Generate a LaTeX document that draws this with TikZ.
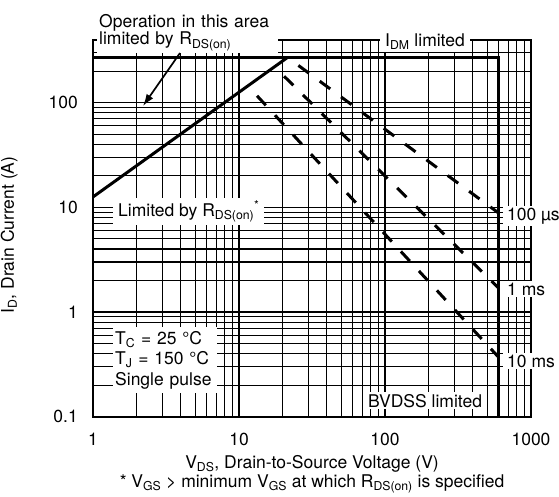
\documentclass[tikz,border=0pt]{standalone}
\usepackage{fontspec}
\setmainfont{TeX Gyre Heros}
\usetikzlibrary{arrows.meta, positioning}

\begin{document}
\begin{tikzpicture}[x=146pt, y=104.7pt, font=\fontsize{17.5}{21}\selectfont,
		gridline/.style={line width=1.1pt},
		frameline/.style={line width=2pt},
		limitline/.style={line width=3pt},
		pulseline/.style={line width=3pt, dash pattern=on 13pt off 13.5pt, dash phase=13pt},
		whitelabel/.style={fill=white, inner xsep=3pt, inner ysep=2pt},
		ticklabel/.style={inner sep=0pt}]
		
		\useasboundingbox (-93pt,-79.3pt) rectangle (466pt,416.7pt);
		
		% grid
		\foreach \d in {0,1,2}
			\foreach \k in {1,...,9}
				\draw[gridline] ({\d+log10(\k)},0) -- ({\d+log10(\k)},{1+log10(400)});
		\foreach \d in {0,1,2}
			\foreach \k in {1,...,9}
				\draw[gridline] (0,{\d+log10(\k)}) -- (3,{\d+log10(\k)});
		\foreach \k in {1,2,3}
			\draw[gridline] (0,{3+log10(\k)}) -- (3,{3+log10(\k)});
		\draw[frameline] (0,0) rectangle (3,{1+log10(400)});
		
		% limits
		\coordinate (idmstart) at (0,{1+log10(270)});
		\coordinate (knee) at ({log10(21.5)},{1+log10(270)});
		\coordinate (bvtop) at ({log10(600)},{1+log10(270)});
		\coordinate (bvbot) at ({log10(600)},0);
		\coordinate (rdsstart) at (0,{1+log10(270)-log10(21.5)});
		\draw[limitline] (idmstart) -- (bvtop) -- (bvbot);
		\draw[limitline] (rdsstart) -- (knee);
		
		% pulse lines
		\coordinate (us100end) at ({log10(600)},{1+log10(8.82)});
		\coordinate (ms1start) at ({log10(17.5)},{1+log10(220)});
		\coordinate (ms1end) at ({log10(600)},{1+log10(1.69)});
		\coordinate (ms10start) at ({log10(11.5)},{1+log10(144.5)});
		\coordinate (ms10end) at ({log10(600)},{1+log10(0.37)});
		\draw[pulseline] (knee) -- (us100end);
		\draw[pulseline] (ms1start) -- (ms1end);
		\draw[pulseline] (ms10start) -- (ms10end);
		
		% ticks
		\foreach \u/\t in {0/0.1,1/1,2/10,3/100}
			\node[ticklabel, anchor=east] (ytick\u) at (-15pt,\u) {\t};
		\foreach \u/\t in {0/1,1/10,2/100,3/1000}
			\node[ticklabel, anchor=base] (xtick\u) at (\u,-28.3pt) {\t};
		
		\node[anchor=base] (xtitle) at (219pt,-51.3pt) {V\textsubscript{DS}, Drain-to-Source Voltage (V)};
		\node[anchor=base] (footnote) at (219pt,-70.5pt) {* V\textsubscript{GS} > minimum V\textsubscript{GS} at which R\textsubscript{DS(on)} is specified};
		\node[anchor=base, rotate=90] (ytitle) at (-79pt,181.7pt) {I\textsubscript{D}, Drain Current (A)};
		
		% notes
		\node[whitelabel, anchor=base west, align=left, text width=177pt, inner xsep=2pt, font=\fontsize{17.5}{17}\selectfont] (rdsnote) at (4pt,388.7pt) {Operation in this area\\limited by R\textsubscript{DS(on)}};
		\coordinate (rdstip) at (50pt,310.7pt);
		\draw[line width=1.7pt, -{Latex[length=12pt,width=8pt]}] ([xshift=83pt]rdsnote.south west) -- (rdstip);
		
		\node[whitelabel, anchor=base west, inner xsep=5pt] (idmnote) at (287pt,369.7pt) {I\textsubscript{DM} limited};
		\node[whitelabel, anchor=base west, inner xsep=5pt, inner ysep=3pt] (rdslimit) at (20pt,200.7pt) {Limited by R\textsubscript{DS(on)}\textsuperscript{*}};
		\node[whitelabel, anchor=base west, align=left, text width=100pt, inner xsep=2pt, inner ysep=4pt, font=\fontsize{17.5}{20.5}\selectfont] (cond) at (20pt,72.7pt) {T\textsubscript{C} = 25 °C\\T\textsubscript{J} = 150 °C\\Single pulse};
		\node[whitelabel, anchor=base west] (bvdss) at (272pt,9.7pt) {BVDSS limited};
		
		\node[whitelabel, anchor=base west, inner xsep=4pt] (us100) at (410pt,196.7pt) {100 µs};
		\node[whitelabel, anchor=base west, inner xsep=4pt] (ms1) at (410pt,121.7pt) {1 ms};
		\node[whitelabel, anchor=base west, inner xsep=4pt] (ms10) at (410pt,49.7pt) {10 ms};
		
	\end{tikzpicture}
\end{document}
